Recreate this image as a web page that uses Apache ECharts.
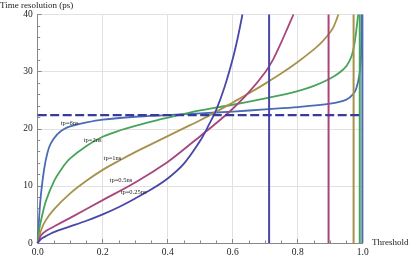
<!DOCTYPE html>
<html>
<head>
<meta charset="utf-8">
<script src="https://cdn.jsdelivr.net/npm/echarts@6/dist/echarts.min.js"></script>
<style>html,body{margin:0;padding:0;background:#fff}#c{width:409px;height:257px}</style>
</head>
<body>
<div id="c"></div>
<script>
// Data
const xTicks = [0.0, 0.2, 0.4, 0.6, 0.8, 1.0];
const yTicks = [0, 10, 20, 30, 40];
const seriesNames = ['tp=6ns', 'tp=2ns', 'tp=1ns', 'tp=0.5ns', 'tp=0.25ns'];
const curve6ns = [[0,0],[0.005,5],[0.01,8.5],[0.02,13],[0.03,15.8],[0.04,17.4],[0.06,19.0],[0.08,19.9],[0.1,20.4],[0.15,21.1],[0.2,21.6],[0.3,22.1],[0.4,22.4],[0.5,22.7],[0.6,23.0],[0.7,23.4],[0.8,23.8],[0.9,24.4],[0.95,25.1],[0.97,26],[0.98,27],[0.99,29.5],[0.995,33],[0.998,40]];
const curve2ns = [[0,0],[0.005,2.5],[0.01,3.9],[0.025,7.3],[0.05,10.8],[0.075,13.1],[0.1,14.8],[0.15,17.0],[0.2,18.6],[0.25,19.65],[0.3,20.5],[0.35,21.25],[0.4,21.95],[0.5,23.2],[0.6,24.2],[0.7,25.3],[0.8,26.6],[0.85,27.5],[0.9,28.8],[0.93,29.9],[0.95,31.0],[0.965,32.6],[0.975,35],[0.982,38],[0.986,40]];
const curve1ns = [[0,0],[0.01,2.2],[0.025,4.0],[0.05,5.9],[0.1,8.7],[0.15,10.9],[0.2,12.8],[0.25,14.4],[0.3,15.9],[0.35,17.3],[0.4,18.7],[0.45,20.1],[0.5,21.5],[0.55,23.0],[0.6,24.6],[0.65,26.2],[0.7,27.9],[0.75,29.7],[0.8,31.7],[0.85,33.9],[0.875,35.2],[0.9,36.9],[0.91,37.8],[0.92,39.2],[0.925,40]];
const curve05ns = [[0,0],[0.01,1.3],[0.025,2.1],[0.05,2.9],[0.1,4.4],[0.2,7.5],[0.3,10.6],[0.4,14.2],[0.45,16.4],[0.5,18.7],[0.55,21.0],[0.6,23.5],[0.65,26.4],[0.7,29.9],[0.725,32.2],[0.75,35.2],[0.77,37.8],[0.787,40]];
const curve025ns = [[0,0],[0.01,0.7],[0.025,1.2],[0.05,1.9],[0.1,2.9],[0.15,3.9],[0.2,5.0],[0.25,6.3],[0.3,7.8],[0.35,9.4],[0.4,11.3],[0.45,13.9],[0.5,17.9],[0.525,20.5],[0.55,23.4],[0.575,27.3],[0.6,32.2],[0.615,35.8],[0.63,40]];
const asymptotes = [0.999, 0.991, 0.972, 0.895, 0.712];
const dashedLevel = 22.4;
const labelAnchors = [[0.098,21.0],[0.169,17.9],[0.23,14.9],[0.256,10.9],[0.295,8.8]];

const colors = ['#4a6cb4', '#46a45a', '#a8924a', '#a8457c', '#4747aa'];
const curves = [curve6ns, curve2ns, curve1ns, curve05ns, curve025ns];

const chart = echarts.init(document.getElementById('c'), null, {renderer: 'canvas'});
const serif = '"Liberation Serif", "DejaVu Serif", serif';

const series = [];
curves.forEach((d, i) => {
  series.push({
    name: seriesNames[i], type: 'line', data: d, showSymbol: false, smooth: 0.3,
    lineStyle: {color: colors[i], width: 1.8}, z: 3, silent: true
  });
});
asymptotes.forEach((a, i) => {
  series.push({
    type: 'line', data: [[a, 0], [a, 40]], showSymbol: false,
    lineStyle: {color: colors[i], width: 2}, z: 4, silent: true
  });
});
series.push({
  type: 'line', data: [[0, dashedLevel], [1, dashedLevel]], showSymbol: false,
  lineStyle: {color: '#3a3a9c', width: 2.2, type: [9, 3.5]}, z: 5, silent: true
});

chart.setOption({
  animation: false,
  grid: {left: 37.7, right: 46.3, top: 14.5, bottom: 13.5, containLabel: false},
  xAxis: {
    type: 'value', min: 0, max: 1, interval: 0.2,
    axisLine: {show: true, lineStyle: {color: '#888', width: 1}},
    axisTick: {show: true, inside: true, length: 4, lineStyle: {color: '#888'}},
    minorTick: {show: true, splitNumber: 4, length: 2.5, lineStyle: {color: '#888'}},
    splitLine: {show: true, lineStyle: {color: '#e2e2e2', width: 1}},
    axisLabel: {color: '#222', fontFamily: serif, fontSize: 9.5, margin: 4,
      formatter: v => xTicks.find(t => Math.abs(t - v) < 1e-6) !== undefined ? v.toFixed(1) : ''}
  },
  yAxis: {
    type: 'value', min: 0, max: 40, interval: 10,
    axisLine: {show: true, lineStyle: {color: '#888', width: 1}},
    axisTick: {show: true, inside: true, length: 4, lineStyle: {color: '#888'}},
    minorTick: {show: true, splitNumber: 5, length: 2.5, lineStyle: {color: '#888'}},
    splitLine: {show: true, lineStyle: {color: '#e2e2e2', width: 1}},
    axisLabel: {color: '#222', fontFamily: serif, fontSize: 9.5, margin: 5,
      formatter: v => yTicks.indexOf(v) >= 0 ? String(v) : ''}
  },
  series: series
});

const graphics = [
  {type: 'text', left: 0, top: 1, style: {text: 'Time resolution (ps)', font: '9px ' + serif, fill: '#222'}},
  {type: 'text', x: 372, y: 238, style: {text: 'Threshold', font: '9px ' + serif, fill: '#222'}}
];
labelAnchors.forEach((p, i) => {
  const px = chart.convertToPixel({gridIndex: 0}, p);
  graphics.push({type: 'text', x: px[0], y: px[1], style: {text: seriesNames[i], font: '6.5px ' + serif, fill: '#222', align: 'center', verticalAlign: 'middle'}, z: 10});
});
chart.setOption({graphic: graphics});
</script>
</body>
</html>
